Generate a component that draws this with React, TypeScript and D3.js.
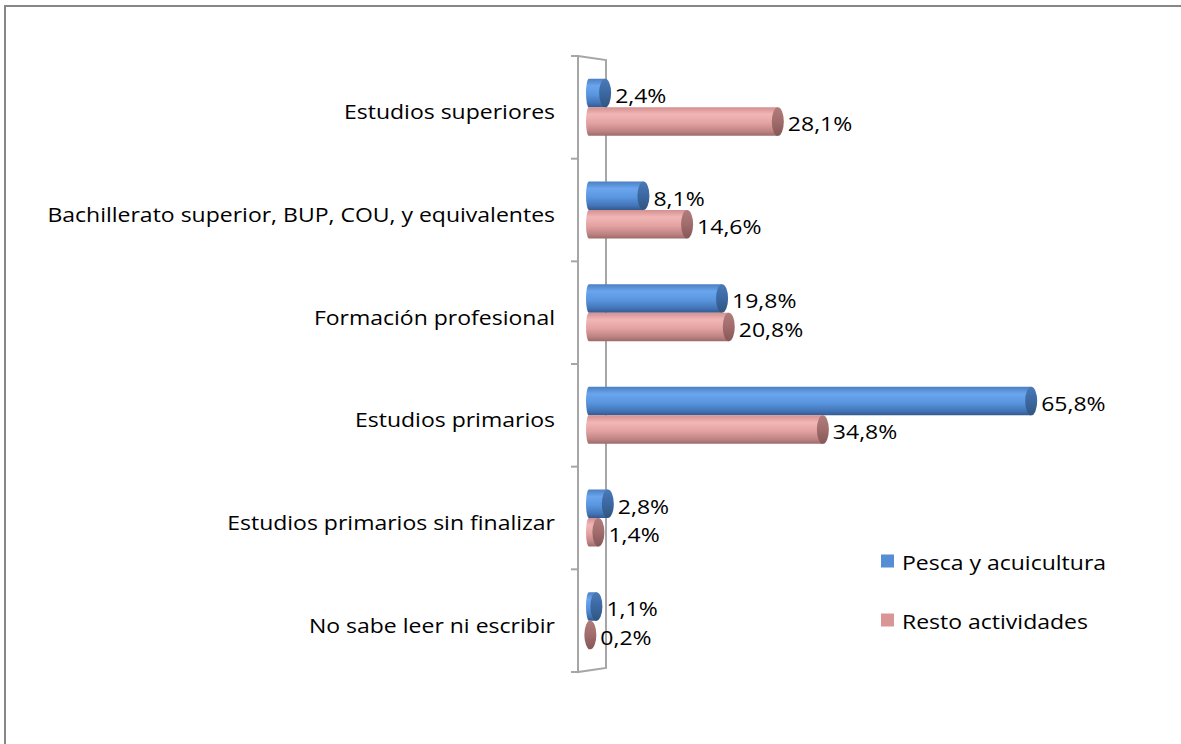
import React, { useEffect, useRef } from 'react'
import * as d3 from 'd3'

// categories, top to bottom as in the chart
const categories = [
  'Estudios superiores',
  'Bachillerato superior, BUP, COU, y equivalentes',
  'Formación profesional',
  'Estudios primarios',
  'Estudios primarios sin finalizar',
  'No sabe leer ni escribir',
]
const pesca = [2.4, 8.1, 19.8, 65.8, 2.8, 1.1]
const resto = [28.1, 14.6, 20.8, 34.8, 1.4, 0.2]
const seriesNames = ['Pesca y acuicultura', 'Resto actividades']

const W = 1181
const H = 744
const FONT = '"Open Sans", Lato, sans-serif'
const SX = 1.15 // the original text is drawn wide for its height

export default function App() {
  const ref = useRef<SVGSVGElement>(null)

  useEffect(() => {
    document.body.style.margin = '0'
    document.body.style.overflow = 'hidden'
    const svg = d3.select(ref.current)
    svg.selectAll('*').remove()

    const x = d3.scaleLinear().domain([0, 70]).range([589, 589 + 70 * 6.72])
    const y = d3.scaleBand().domain(categories).range([56, 672])
    const barH = 28.5
    const capRx = 6

    const defs = svg.append('defs')
    const grad = (id, stops) => {
      const g = defs.append('linearGradient').attr('id', id)
        .attr('x1', 0).attr('y1', 0).attr('x2', 0).attr('y2', 1)
      stops.forEach(([o, c]) => g.append('stop').attr('offset', o).attr('stop-color', c))
    }
    grad('gBlue', [[0, '#4b80c2'], [0.25, '#6aa5ee'], [0.55, '#5a96e0'], [0.85, '#4274b6'], [1, '#34598e']])
    grad('gPink', [[0, '#d49090'], [0.25, '#f2b6b6'], [0.55, '#e4a2a2'], [0.85, '#bd8282'], [1, '#9c6a6a']])
    grad('cBlue', [[0, '#4a7ab8'], [0.5, '#3c68a2'], [1, '#30557f']])
    grad('cPink', [[0, '#b27c7c'], [0.5, '#a06c6c'], [1, '#875757']])

    const label = (sel, px, py, anchor = 'start') => sel
      .attr('transform', `translate(${px},${py}) scale(${SX},1)`)
      .attr('text-anchor', anchor)
      .attr('dominant-baseline', 'central')
      .style('font-family', FONT).style('font-size', '20px').style('fill', '#000')

    // outer chart border (the frame runs off the right and bottom edges)
    svg.append('path')
      .attr('d', `M5,${H + 10} L5,6 L${W + 10},6`)
      .attr('fill', 'none').attr('stroke', '#878787').attr('stroke-width', 2)

    // 3D back wall
    const wall = svg.append('g').attr('stroke', '#a6a6a6').attr('stroke-width', 2).attr('fill', 'none')
    wall.append('path').attr('d', 'M578,56 L606,60 L606,668 L578,672 Z')
    const bounds = categories.map(c => y(c)).concat([y.range()[1]])
    wall.selectAll('line.tick').data(bounds).enter().append('line')
      .attr('x1', 571).attr('x2', 578)
      .attr('y1', d => d).attr('y2', d => d)

    // category labels
    svg.append('g').selectAll('text').data(categories).enter().append('text')
      .each(function (d) {
        label(d3.select(this), 555, y(d) + y.bandwidth() / 2 + 4, 'end')
      })
      .text(d => d)

    const drawSeries = (vals, offset, body, cap) => {
      const g = svg.append('g')
      vals.forEach((v, i) => {
        const cy = y(categories[i]) + y.bandwidth() / 2 + offset
        const top = cy - barH / 2
        const bot = cy + barH / 2
        const x0 = x(0)
        const x1 = x(v)
        g.append('path')
          .attr('d', `M${x0},${top} L${x1},${top} L${x1},${bot} L${x0},${bot} A3,${barH / 2} 0 0 1 ${x0},${top} Z`)
          .attr('fill', `url(#${body})`)
        g.append('ellipse')
          .attr('cx', x1).attr('cy', cy).attr('rx', capRx).attr('ry', barH / 2)
          .attr('fill', `url(#${cap})`)
        label(g.append('text'), x1 + capRx + 4, cy + 2)
          .text(d3.format('.1f')(v).replace('.', ',') + '%')
      })
    }
    drawSeries(pesca, -barH / 2, 'gBlue', 'cBlue')
    drawSeries(resto, barH / 2, 'gPink', 'cPink')

    // legend
    const legColors = ['#558ed5', '#d99694']
    const leg = svg.append('g').selectAll('g').data(seriesNames).enter().append('g')
      .attr('transform', (d, i) => `translate(881,${561 + i * 59})`)
    leg.append('rect').attr('x', 0).attr('y', -6.5).attr('width', 13).attr('height', 13)
      .attr('fill', (d, i) => legColors[i])
    leg.append('text')
      .each(function () { label(d3.select(this), 21, 1) })
      .text(d => d)
  }, [])

  return (
    <svg ref={ref} width={W} height={H}
      style={{ position: 'absolute', left: 0, top: 0, background: '#fff', display: 'block' }} />
  )
}
